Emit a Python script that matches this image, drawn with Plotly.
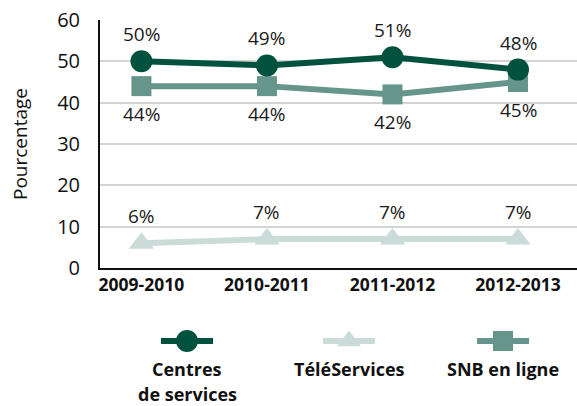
import plotly.graph_objects as go

categories = ["2009-2010", "2010-2011", "2011-2012", "2012-2013"]
centres = [50, 49, 51, 48]
teleservices = [6, 7, 7, 7]
snb = [44, 44, 42, 45]
series_names = [["Centres", "de services"], ["TéléServices"], ["SNB en ligne"]]
y_ticks = [0, 10, 20, 30, 40, 50, 60]

C_DARK = "#00523F"
C_LIGHT = "#CBDCD8"
C_MID = "#66958B"
FONT = "Open Sans, Noto Sans, sans-serif"

W, H = 577, 406
ml, mt = 100, 20
plot_bottom = 268
dom_main = (H - plot_bottom) / (H - mt)

fig = go.Figure()
xs = list(range(len(categories)))

LBL = dict(size=19, color="#1a1a1a", family=FONT)

series = [
    (teleservices, C_LIGHT, "triangle-up", 22, 27),
    (snb, C_MID, "square", 20, -28),
    (centres, C_DARK, "circle", 22, 27),
]
for vals, col, sym, sz, shift in series:
    fig.add_trace(go.Scatter(x=xs, y=vals, mode="lines+markers",
        line=dict(color=col, width=6), marker=dict(symbol=sym, size=sz, color=col),
        cliponaxis=False, showlegend=False))
    for xv, yv in zip(xs, vals):
        fig.add_annotation(x=xv, y=yv, xref="x", yref="y", text=f"{yv}%", showarrow=False,
            yshift=shift, font=LBL, xanchor="center", yanchor="middle")

# custom legend (symbol above text) on a pixel-like helper axis
leg_x = [187, 349, 503]
leg_y = 341
line_y = [369, 394]
styles = [("circle", C_DARK, 22), ("triangle-up", C_LIGHT, 21), ("square", C_MID, 20)]
for cx, (sym, col, sz), lines in zip(leg_x, styles, series_names):
    fig.add_trace(go.Scatter(x=[cx - 26, cx + 26], y=[leg_y, leg_y], mode="lines",
        line=dict(color=col, width=6), xaxis="x2", yaxis="y2", showlegend=False, hoverinfo="skip"))
    fig.add_trace(go.Scatter(x=[cx], y=[leg_y], mode="markers",
        marker=dict(symbol=sym, size=sz, color=col), xaxis="x2", yaxis="y2",
        showlegend=False, hoverinfo="skip"))
    for ln, ly in zip(lines, line_y):
        fig.add_annotation(x=cx, y=ly, xref="x2", yref="y2", text=f"<b>{ln}</b>",
            showarrow=False, yanchor="middle", xanchor="center", borderpad=0,
            font=dict(size=18, color="#111", family=FONT))

fig.update_layout(
    width=W, height=H, margin=dict(l=ml, r=0, t=mt, b=0, autoexpand=False),
    paper_bgcolor="white", plot_bgcolor="white",
    font=dict(family=FONT, color="#111"),
    xaxis=dict(tickmode="array", tickvals=xs, ticktext=[f"<b>{c}</b>" for c in categories],
        range=[-0.33, 3.47], showgrid=False, zeroline=False, automargin=False,
        showline=True, linecolor="#111", linewidth=2, ticks="",
        tickfont=dict(size=17.5, color="#111", family=FONT), anchor="y"),
    yaxis=dict(domain=[dom_main, 1], range=[0, 60], tickvals=y_ticks, automargin=False,
        showgrid=True, gridcolor="#d4d4d4", gridwidth=1.5, zeroline=False,
        showline=True, linecolor="#111", linewidth=2, ticks="", ticklabelstandoff=14,
        tickfont=dict(size=20, color="#111", family=FONT),
        title=dict(text="Pourcentage", font=dict(size=19, family=FONT, color="#111"), standoff=24)),
    xaxis2=dict(domain=[0, 1], range=[ml, W], visible=False, anchor="y2", fixedrange=True),
    yaxis2=dict(domain=[0, dom_main - 0.02], range=[H, H - (dom_main - 0.02) * (H - mt)],
        visible=False, anchor="x2", fixedrange=True),
)

fig.write_html("out.html", config={"displayModeBar": False},
               post_script="document.body.style.margin='0';document.body.style.overflow='hidden';")
